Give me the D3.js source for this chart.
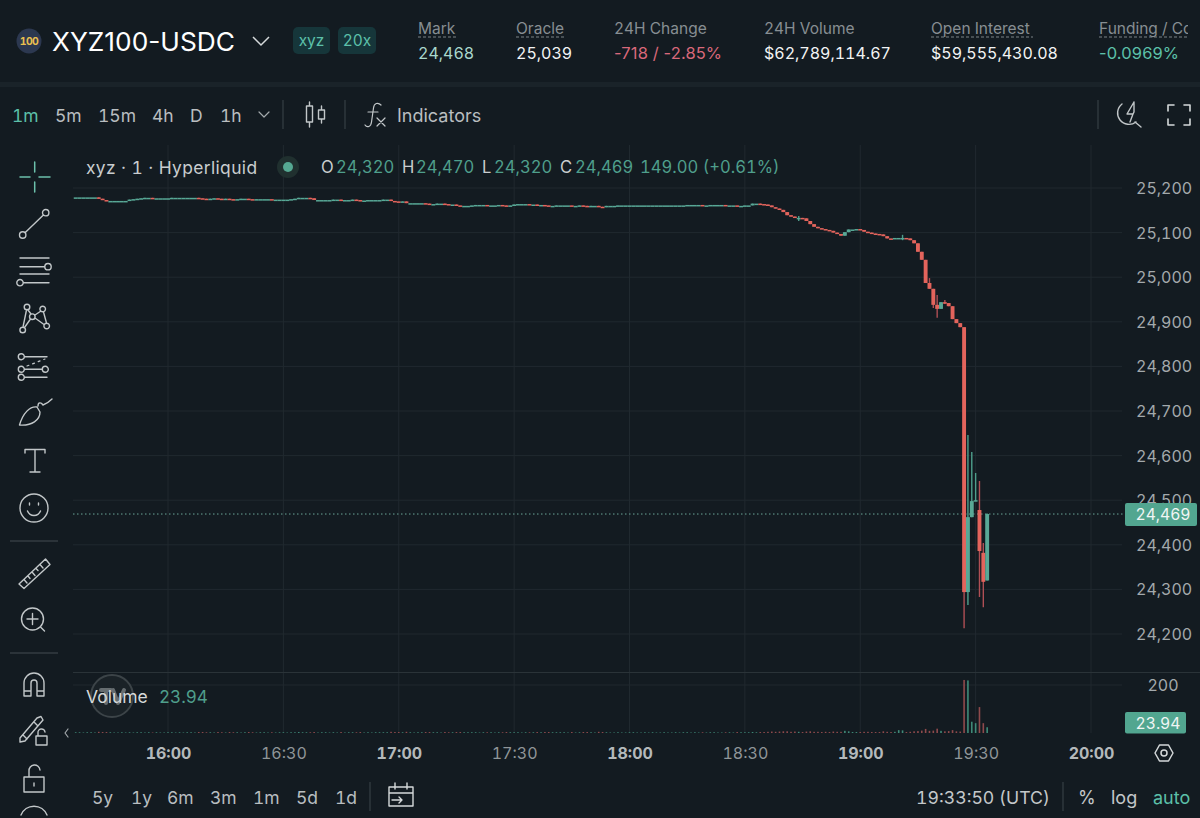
<!DOCTYPE html>
<html>
<head>
<meta charset="utf-8">
<script src="https://cdn.jsdelivr.net/npm/d3@7"></script>
<style>
  html, body { margin: 0; padding: 0; background: #131b21; overflow: hidden; }
  text { font-family: Inter, "Noto Sans", sans-serif; font-variant-numeric: tabular-nums; }
</style>
</head>
<body>
<svg id="chart" width="1200" height="818"></svg>
<script>
// 1m candles, first one at 15:36 UTC, open = previous close unless listed in gapOpens
const firstCandle = "15:36";
const closes = [
  25179,25179,25179,25179,25179,25179,25176,25173,25171,25171,
  25171,25171,25171,25171,25174,25175,25176,25177,25178,25178,
  25177,25177,25177,25177,25177,25178,25178,25178,25178,25178,
  25178,25178,25177,25176,25175,25176,25177,25176,25175,25176,
  25175,25174,25175,25176,25176,25175,25174,25175,25175,25175,
  25175,25174,25174,25174,25174,25174,25175,25176,25178,25178,
  25178,25177,25173,25173,25173,25173,25173,25174,25174,25173,
  25173,25173,25174,25173,25172,25172,25173,25173,25173,25173,
  25174,25174,25171,25170,25169,25170,25166,25166,25166,25166,
  25166,25165,25164,25164,25165,25165,25164,25163,25163,25161,
  25160,25160,25160,25161,25162,25162,25162,25161,25161,25161,
  25162,25161,25160,25161,25163,25164,25164,25164,25163,25163,
  25162,25162,25161,25160,25160,25161,25161,25161,25161,25160,
  25160,25161,25160,25159,25160,25160,25158,25157,25160,25160,
  25160,25161,25161,25161,25161,25161,25161,25161,25161,25161,
  25161,25161,25161,25161,25161,25161,25161,25161,25161,25162,
  25162,25162,25162,25161,25161,25162,25162,25162,25162,25161,
  25161,25161,25160,25160,25161,25161,25165,25165,25164,25163,
  25161,25157,25154,25151,25146,25139,25136,25133,25133,25132,
  25126,25119,25113,25110,25108,25106,25104,25100,25097,25093,
  25101,25107,25107,25108,25106,25102,25100,25098,25097,25096,
  25092,25087,25086,25088,25088,25088,25087,25083,25076,25057,
  25039,24987,24974,24938,24929,24944,24942,24935,24906,24897,
  24888,24294,24462,24498,24500,24386,24317,24469
];
const firstOpen = 25179;
const gapOpens = { "19:31": 24478, "19:32": 24382, "19:33": 24320 };
const wickTimes = ["18:44","19:11","19:18","19:19","19:20","19:22","19:27","19:28","19:29","19:30","19:31","19:32","19:33"];
const wickHighs = [25137,25095,24998,24974,24960,24949,24888,24646,24608,24561,24543,24404,24470];
const wickLows  = [25126,25083,24974,24931,24909,24940,24213,24265,24462,24498,24283,24260,24320];
const volumes = [
  3,3,2,3,3,2,5,4,4,3,
  2,2,3,2,3,2,3,3,2,3,
  2,3,2,2,3,3,2,3,2,3,
  3,2,4,4,3,3,2,4,3,2,
  4,3,3,2,3,4,3,2,3,3,
  2,3,2,3,3,2,3,3,4,3,
  3,3,4,2,3,3,2,3,2,4,
  2,3,3,3,4,2,3,2,3,3,
  3,3,5,4,4,3,5,3,2,3,
  3,4,4,3,3,2,4,3,3,4,
  4,3,3,3,3,2,3,3,3,2,
  3,3,4,3,3,3,2,3,3,3,
  4,3,4,4,3,3,3,3,2,4,
  2,3,4,4,3,2,5,4,3,2,
  2,3,2,2,3,3,2,2,3,2,
  3,2,2,3,2,2,3,2,3,3,
  2,3,2,3,2,3,3,2,2,3,
  3,2,4,3,3,3,4,3,4,4,
  5,6,5,6,7,7,5,6,5,4,
  6,7,5,5,4,5,4,6,5,5,
  9,7,4,4,4,5,5,4,4,4,
  7,5,4,5,12,11,4,5,7,8,
  10,17,9,10,18,9,7,8,12,7,
  6,221,219,47,41,108,41,23.94
];
const priceTicks = [25200,25100,25000,24900,24800,24700,24600,24500,24400,24300,24200];
const timeTicks = ["16:00","16:30","17:00","17:30","18:00","18:30","19:00","19:30","20:00"];
const lastPrice = 24469;
const lastVolume = 23.94;
const volumeTicks = [200];

const stats = [
  { label: "Mark", value: "24,468", x: 418, color: "#a9d8cd", dashed: 38 },
  { label: "Oracle", value: "25,039", x: 516, color: "#f2f4f4", dashed: 49 },
  { label: "24H Change", value: "-718 / -2.85%", x: 614, color: "#d9687a", plain: true },
  { label: "24H Volume", value: "$62,789,114.67", x: 764, color: "#f2f4f4" },
  { label: "Open Interest", value: "$59,555,430.08", x: 931, color: "#f2f4f4", dashed: 102 },
  { label: "Funding / Countdown", value: "-0.0969%", x: 1099, color: "#5cc0a9", dashed: 89, plain: true }
];
const intervals = [["1m",12],["5m",55],["15m",98],["4h",152],["D",190],["1h",220]];
const ranges = [["5y",92],["1y",131],["6m",167],["3m",210],["1m",253],["5d",296],["1d",335]];
const ohlcLegend = [["O",321,"24,320",336],["H",402,"24,470",416],["L",482,"24,320",494],["C",560,"24,469",575]];

const bg = "#131b21", gridColor = "#20292f", teal = "#58a896", red = "#e3645c";
const tealText = "#4f9f8c", light = "#c9cdcf", iconColor = "#c2c7c9";

const svg = d3.select("#chart").style("display", "block");
svg.append("rect").attr("width", 1200).attr("height", 818).attr("fill", bg);

const day = "2025-01-01T";
const parseTime = t => new Date(day + t + ":00Z");
const x = d3.scaleUtc().domain([parseTime("16:00"), parseTime("20:00")]).range([168, 1091]);
const y = d3.scaleLinear().domain([25200, 24200]).range([188, 634]);
const vY = d3.scaleLinear().domain([0, 200]).range([733, 685]);

const start = parseTime(firstCandle).getTime();
const candles = closes.map((c, i) => {
  const t = new Date(start + i * 60000);
  const key = d3.utcFormat("%H:%M")(t);
  const open = gapOpens[key] !== undefined ? gapOpens[key] : (i === 0 ? firstOpen : closes[i - 1]);
  const w = wickTimes.indexOf(key);
  return {
    t, open, close: c, volume: volumes[i],
    high: w >= 0 ? wickHighs[w] : Math.max(open, c),
    low: w >= 0 ? wickLows[w] : Math.min(open, c),
    up: c >= open
  };
});

// panel strip between the header and the chart
svg.append("rect").attr("x", 0).attr("y", 82).attr("width", 1200).attr("height", 5).attr("fill", "#1a2329");

// ---------- grid
const grid = svg.append("g");
grid.selectAll("line.h").data(priceTicks).join("line")
  .attr("x1", 73).attr("x2", 1122).attr("y1", d => y(d)).attr("y2", d => y(d))
  .attr("stroke", gridColor);
grid.selectAll("line.v").data(timeTicks).join("line")
  .attr("x1", d => x(parseTime(d))).attr("x2", d => x(parseTime(d)))
  .attr("y1", 145).attr("y2", 733).attr("stroke", gridColor);
grid.append("line").attr("x1", 73).attr("x2", 1200).attr("y1", 672.5).attr("y2", 672.5).attr("stroke", "#2a3338").attr("stroke-width", 1.2);
grid.selectAll("line.vol").data(volumeTicks).join("line")
  .attr("x1", 73).attr("x2", 1122).attr("y1", d => vY(d)).attr("y2", d => vY(d)).attr("stroke", gridColor);

// ---------- last price line
svg.append("line").attr("x1", 73).attr("x2", 1125).attr("y1", y(lastPrice)).attr("y2", y(lastPrice))
  .attr("stroke", "#6aa597").attr("stroke-width", 1).attr("stroke-dasharray", "1.5 2.5");

// ---------- candles
const marks = svg.append("g");
marks.selectAll("line.wick").data(candles.filter(d => d.high !== d.low)).join("line")
  .attr("x1", d => x(d.t)).attr("x2", d => x(d.t))
  .attr("y1", d => y(d.high)).attr("y2", d => y(d.low))
  .attr("stroke", d => d.up ? "#4f9f8c" : "#b04f55").attr("stroke-width", 1.4);
marks.selectAll("rect").data(candles).join("rect")
  .attr("x", d => x(d.t) - 1.95).attr("width", 3.9)
  .attr("y", d => Math.min(y(d.open), y(d.close)))
  .attr("height", d => Math.max(1.5, Math.abs(y(d.open) - y(d.close))))
  .attr("fill", d => d.up ? teal : red);

// ---------- volume bars
svg.append("g").selectAll("rect").data(candles).join("rect")
  .attr("x", d => x(d.t) - 0.8).attr("width", 1.6)
  .attr("y", d => vY(d.volume))
  .attr("height", d => vY(0) - vY(d.volume))
  .attr("fill", d => d.up ? "#3f8a78" : "#8f4a4c");

// ---------- axes
const priceAxis = d3.axisRight(y).tickValues(priceTicks).tickFormat(d3.format(",")).tickSize(0).tickPadding(0);
const pa = svg.append("g").attr("transform", "translate(1136,0.4)").call(priceAxis);
pa.select(".domain").remove();
pa.selectAll("text").attr("font-size", 16).attr("fill", "#a3a9ac").attr("font-family", "Inter");

const volAxis = d3.axisRight(vY).tickValues(volumeTicks).tickFormat(d3.format("d")).tickSize(0).tickPadding(0);
const va = svg.append("g").attr("transform", "translate(1136,0.4)").call(volAxis);
va.select(".domain").remove();
va.selectAll("text").attr("x", 27).attr("text-anchor", "middle").attr("font-size", 16).attr("fill", "#a3a9ac").attr("font-family", "Inter");

const timeAxis = d3.axisBottom(x).tickValues(timeTicks.map(parseTime)).tickFormat(d3.utcFormat("%H:%M")).tickSize(0).tickPadding(0);
const ta = svg.append("g").attr("transform", "translate(0,747)").call(timeAxis);
ta.select(".domain").remove();
ta.selectAll("text")
  .attr("font-size", 16).attr("font-family", "Inter")
  .attr("dy", "0.78em")
  .attr("font-weight", d => d.getUTCMinutes() === 0 ? 700 : 400)
  .attr("fill", d => d.getUTCMinutes() === 0 ? "#b4b9bb" : "#8f9598");

function label(s, tx, ty, size, color, extra) {
  const t = svg.append("text").attr("x", tx).attr("y", ty).attr("font-size", size).attr("fill", color)
    .attr("dominant-baseline", "central").text(s);
  if (extra) Object.entries(extra).forEach(([k, v]) => t.attr(k, v));
  return t;
}

// price tags
svg.append("rect").attr("x", 1125).attr("y", y(lastPrice) - 11).attr("width", 72).attr("height", 23).attr("rx", 2).attr("fill", "#52a690");
label(d3.format(",")(lastPrice), 1163, y(lastPrice) + 0.5, 15.7, "#f0f5f4", { "text-anchor": "middle" });
svg.append("rect").attr("x", 1125).attr("y", 712).attr("width", 61).attr("height", 21.5).attr("rx", 2).attr("fill", "#52a690");
label(String(lastVolume), 1158, 723, 15.7, "#f0f5f4", { "text-anchor": "middle" });

// ---------- header
svg.append("circle").attr("cx", 29).attr("cy", 41).attr("r", 12.5).attr("fill", "#2c3850");
label("100", 29, 41.5, 10.5, "#e8bf4f", { "text-anchor": "middle", "font-weight": 700, "letter-spacing": "-0.6" });
label("XYZ100-USDC", 52, 41, 26, "#ffffff", { textLength: 183, lengthAdjust: "spacingAndGlyphs" }).style("font-variant-numeric", "normal");
svg.append("path").attr("d", "M253 37 L261 45 L269 37").attr("fill", "none").attr("stroke", "#d5d9da").attr("stroke-width", 1.5);
[["xyz", 293, 37], ["20x", 338, 38]].forEach(([s, bx, bw]) => {
  svg.append("rect").attr("x", bx).attr("y", 27).attr("width", bw).attr("height", 27).attr("rx", 5).attr("fill", "#16363a");
  label(s, bx + bw / 2, 40.5, 15.5, "#5cc0a9", { "text-anchor": "middle" });
});

const clip = svg.append("clipPath").attr("id", "statClip");
clip.append("rect").attr("x", 400).attr("y", 0).attr("width", 788).attr("height", 82);
const statG = svg.append("g").attr("clip-path", "url(#statClip)");
stats.forEach(s => {
  statG.append("text").attr("x", s.x).attr("y", 28).attr("font-size", 15.5).attr("fill", "#878e92")
    .attr("dominant-baseline", "central").text(s.label);
  const v = statG.append("text").attr("x", s.x).attr("y", 53).attr("font-size", 16).attr("fill", s.color)
    .attr("dominant-baseline", "central").text(s.value);
  if (s.plain) v.attr("font-size", 16.5).style("font-variant-numeric", "normal").attr("letter-spacing", "0.12");
  if (s.dashed) {
    statG.append("line").attr("x1", s.x).attr("x2", s.x + s.dashed).attr("y1", 37).attr("y2", 37)
      .attr("stroke", "#7d8488").attr("stroke-dasharray", "3 2");
  }
});

// ---------- toolbar
intervals.forEach(([s, tx], i) => label(s, tx, 115, 17.5, i === 0 ? "#5cc0a9" : "#b9bec0"));
label("Indicators", 397, 115, 18, "#b9bec0");
const sep = (x1, y1, x2, y2) => svg.append("line").attr("x1", x1).attr("x2", x2).attr("y1", y1).attr("y2", y2).attr("stroke", "#343d42").attr("stroke-width", 1.3);
sep(283, 100, 283, 129); sep(345, 100, 345, 129); sep(1098, 100, 1098, 129);
sep(370, 782, 370, 811); sep(1063, 782, 1063, 811);
sep(10, 541, 58, 541); sep(10, 653, 58, 653);

function icon(d, color, width) {
  return svg.append("path").attr("d", d).attr("fill", "none").attr("stroke", color || iconColor).attr("stroke-width", width || 1.4)
    .attr("stroke-linecap", "round").attr("stroke-linejoin", "round");
}
const ring = (cx, cy, r) => `M${cx - r} ${cy} a${r} ${r} 0 1 0 ${2 * r} 0 a${r} ${r} 0 1 0 ${-2 * r} 0 `;

icon("M259 112 L264 117 L269 112", "#a3a9ac", 1.2);
icon("M309.5 102 V106 M306.5 106 h6 v16 h-6 Z M309.5 122 V127 M321.5 106 V110 M318.5 110 h6 v9 h-6 Z M321.5 119 V123");
// fx mark drawn as strokes
icon("M381 105 C378 102 374 103 373.5 108 L371.5 122 C371 127 367 128 365 125 M368 112 H378 M377 118 L385 126 M385 118 L377 126", iconColor, 1.2);
// lightning + fullscreen
icon("M1122 104 A10 10 0 1 0 1136 122 M1134 102 L1127 114 H1133 L1130 122 M1134 102 L1134 112 L1133 114 M1135 122 L1141 127");
icon("M1168 111 V105 H1174 M1184 105 H1190 V111 M1168 119 V125 H1174 M1184 125 H1190 V119", "#d5d9da", 1.6);

// ---------- drawing tools
icon("M34.7 162 V172 M34.7 182 V192 M20 177 H30 M39 177 H50", "#6cc0ab", 1.5);
icon(ring(45.7, 212.7, 3.2) + ring(22.7, 235, 3.2) + "M25 232.7 L43.4 215");
icon("M20 258 H49 M20 266.7 H44.5 " + ring(48, 266.7, 3.2) + "M20 274 H49 " + ring(20, 282.7, 3.2) + "M23.5 282.7 H49");
icon(ring(27, 307, 2.8) + ring(42.7, 309, 2.8) + ring(32.3, 316.7, 2.8) + ring(22.7, 330, 2.8) + ring(46.7, 326, 2.8)
  + "M26.5 310 L23 327 M28 310 L31 314 M35 315 L41 311 M43.5 312 L46.5 323 M35 318 L44 324.5 M30.5 319 L24.5 327.5");
icon(ring(21.3, 356.7, 3) + "M24.5 356.7 H47 " + ring(21.3, 369.3, 3) + ring(45.3, 369.3, 3) + "M24.5 369.3 H42 " + ring(21.3, 377.3, 3) + "M24.5 377.3 H47");
icon("M27 366 L45 359", iconColor, 1.2).attr("stroke-dasharray", "2 4");
icon("M19.5 425 C23 413 30 406 37 407 L40 412 C40 420 32 426 19.5 425 Z M38 406 C38 402 41 402 43 405 C46 404 49 402 52 399");
icon("M25 453 V449.5 H45 V453 M35 449.5 V472 M30 472 H40");
icon(ring(34, 508, 14) + "M27.5 511 C30 517 38 517 40.5 511 M29.5 503 V505 M38.5 503 V505");
icon("M19 584 L45.5 559 L50 564.5 L24 588.5 Z M24 579.5 L27 583 M28 576 L30 578.5 M32 572 L35 575.5 M36 568.5 L38 570.5 M40 564.5 L43 568");
icon(ring(32.5, 619, 11) + "M32.5 613.5 V624.5 M27 619 H38 M40.5 627 L44.5 631");
icon("M24 696 V683 A10 10 0 0 1 44 683 V696 H37 V683 A3 3 0 0 0 31 683 V696 Z M24 691 H31 M37 691 H44");
icon("M20 738 L37 718 L41 716.5 L43 720 L25 741 L20 742 Z M34 722 L38 726 M23 735 L27 739");
icon("M36 736 h11 v9 h-11 Z M38 736 v-3 a3.5 3.5 0 0 1 7 -1");
icon("M24 777 h20 v15 h-20 Z M29 777 v-6 a5.5 5.5 0 0 1 11 -1 M34 783 v3");
icon("M21 815 A14 14 0 0 1 47 815");
icon("M68 729 L65 733 L68 737", "#a3a9ac", 1.2);
icon("M1155 753 L1159.5 745 H1168.5 L1173 753 L1168.5 761 H1159.5 Z " + ring(1164, 753, 3), "#d5d9da", 1.5);
icon("M389 787 H413 V806 H389 Z M389 793 H413 M395 783 V789 M407 783 V789 M392 800 H402 M399 797 L402 800 L399 803", "#d5d9da", 1.4);

// ---------- chart legends
label("xyz · 1 · Hyperliquid", 86, 167, 17.4, light, { "letter-spacing": "0.38" });
svg.append("circle").attr("cx", 288).attr("cy", 167).attr("r", 11).attr("fill", "#20302f");
svg.append("circle").attr("cx", 288).attr("cy", 167).attr("r", 5).attr("fill", "#55a892");
ohlcLegend.forEach(([k, kx, v, vx]) => {
  label(k, kx, 167, 16.6, light);
  label(v, vx, 167, 16.6, tealText);
});
label("149.00 (+0.61%)", 640, 167, 16.6, tealText);

// logo behind the volume legend, drawn as shapes
svg.append("circle").attr("cx", 112).attr("cy", 696).attr("r", 21).attr("fill", "#1a2227").attr("stroke", "#3c4448").attr("stroke-width", 2);
icon("M101 690 H111 M106 690 V703 M113 690 L118 703 L124 690", "#666d70", 4);
label("Volume", 86, 696, 17.5, "#d5d9da");
label("23.94", 159, 696, 17.1, tealText);

// ---------- bottom bar
ranges.forEach(([s, tx]) => label(s, tx, 797, 17.5, "#b9bec0"));
label("19:33:50 (UTC)", 916, 797, 17.7, "#c4c8ca");
label("%", 1078, 797, 18, "#c4c8ca");
label("log", 1111, 797, 18, "#c4c8ca");
label("auto", 1153, 797, 18, "#5cc0a9");
</script>
</body>
</html>
